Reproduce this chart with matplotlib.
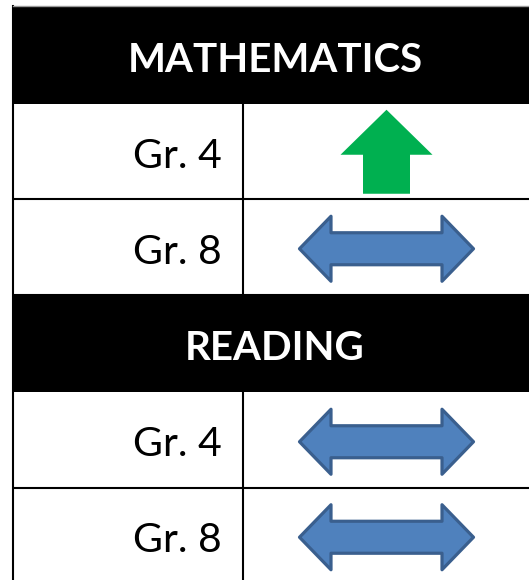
import matplotlib
matplotlib.use("Agg")
import matplotlib.pyplot as plt
from matplotlib.patches import Rectangle, Polygon

# ---- data ----
sections = ["MATHEMATICS", "READING"]
grades = ["Gr. 4", "Gr. 8"]
trends = [["up", "flat"], ["flat", "flat"]]   # up = increase, flat = no significant change

# ---- layout (pixel units) ----
W, H = 529, 580
left, right = 13, 540
split = 243
top = 6
header_h = 97.5
row_h = 95.5
lw = 1.5

fig = plt.figure(figsize=(W / 100, H / 100), dpi=100)
ax = fig.add_axes([0, 0, 1, 1])
ax.set_xlim(0, W)
ax.set_ylim(H, 0)
ax.axis("off")

font = "Lato"


def up_arrow(cx, cy):
    hw, sw = 46, 23.5
    ty, hy, by = cy - 42, cy + 3, cy + 42
    pts = [(cx, ty), (cx + hw, hy), (cx + sw, hy), (cx + sw, by),
           (cx - sw, by), (cx - sw, hy), (cx - hw, hy)]
    ax.add_patch(Polygon(pts, closed=True, facecolor="#00B050", edgecolor="none", zorder=3))


def flat_arrow(cx, cy):
    half, hx = 87, 55.5
    hh, sh = 32.5, 16
    pts = [(cx - half, cy), (cx - hx, cy - hh), (cx - hx, cy - sh), (cx + hx, cy - sh),
           (cx + hx, cy - hh), (cx + half, cy), (cx + hx, cy + hh), (cx + hx, cy + sh),
           (cx - hx, cy + sh), (cx - hx, cy + hh)]
    ax.add_patch(Polygon(pts, closed=True, facecolor="#4F81BD", edgecolor="#3A5F8E",
                         linewidth=2.3, joinstyle="round", zorder=3))


y = top
arrow_cx = (split + W) / 2 + 0.5
for si, sec in enumerate(sections):
    ax.add_patch(Rectangle((left, y), right - left, header_h, facecolor="black",
                           edgecolor="none", zorder=1))
    ax.text((left + W) / 2 + 4, y + 66, sec, color="white", fontsize=29,
            fontweight="bold", family=font, ha="center", va="baseline", zorder=4)
    y += header_h
    for gi, gr in enumerate(grades):
        y0 = y
        ax.text(222, y0 + 64.5, gr, color="black", fontsize=29.5, family=font,
                ha="right", va="baseline", zorder=4)
        cy = y0 + row_h / 2 + 2
        if trends[si][gi] == "up":
            up_arrow(arrow_cx, y0 + row_h / 2 + 0.5)
        else:
            flat_arrow(arrow_cx, cy)
        ax.plot([split, split], [y0, y0 + row_h], color="black", lw=lw, zorder=2,
                solid_capstyle="butt")
        ax.plot([left, right], [y0 + row_h, y0 + row_h], color="black", lw=lw, zorder=2,
                solid_capstyle="butt")
        y += row_h

# outer left border and top edge
ax.plot([left, left], [top, H], color="black", lw=lw, zorder=2)
ax.plot([left, right], [top, top], color="#9a9a9a", lw=1.0, zorder=2)

fig.savefig("out.png", dpi=100, facecolor="white")
